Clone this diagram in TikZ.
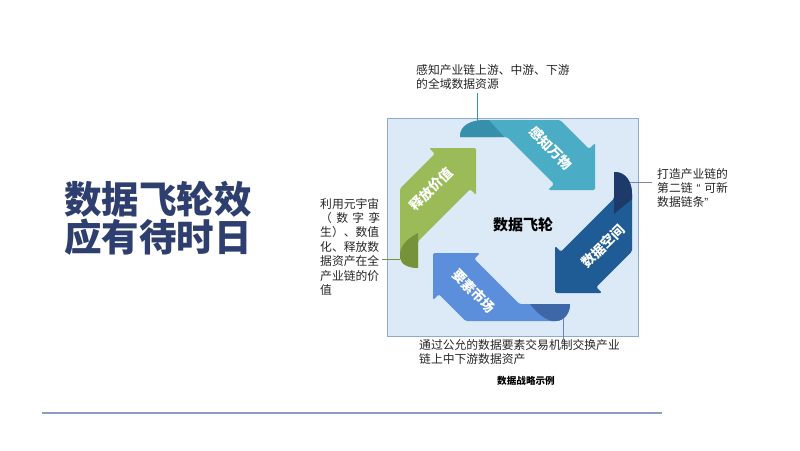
\documentclass[tikz,border=0pt]{standalone}
\usepackage{fontspec}
\setmainfont{Noto Sans CJK SC}
\newfontfamily\latq{Liberation Sans}
\definecolor{teal1}{HTML}{4BACC6}
\definecolor{teal2}{HTML}{3690AB}
\definecolor{navy1}{HTML}{1F5B94}
\definecolor{navy2}{HTML}{1D3A6B}
\definecolor{blu1}{HTML}{5B8FDC}
\definecolor{blu2}{HTML}{3E67A8}
\definecolor{grn1}{HTML}{9BBB59}
\definecolor{grn2}{HTML}{76933C}
\definecolor{boxfill}{HTML}{DCE9F6}
\definecolor{boxline}{HTML}{8EAACC}
\definecolor{titlec}{HTML}{2E3E6F}
\definecolor{rulec}{HTML}{8C9CC2}
\tikzset{
  lbl/.style={inner sep=0pt, align=left, text=black!85, font=\fontsize{11.8}{14}\selectfont},
  arrlbl/.style={inner sep=0pt, text=white, font=\bfseries\fontsize{13.5}{15}\selectfont},
  conn/.style={line width=0.9pt},
}
\begin{document}
\begin{tikzpicture}[x=1pt,y=-1pt]
\useasboundingbox (0,0) rectangle (800,450);
\fill[white] (0,0) rectangle (800,450);

% title
\node[inner sep=0pt, align=center, text=titlec, font=\bfseries\fontsize{37.5}{38}\selectfont] (title) at (158,218) {数据飞轮效\\应有待时日};
% rule
\draw[rulec, line width=1.2pt] (42,413) -- (662,413);

% box
\draw[boxline, fill=boxfill, line width=1pt] (387,118) rectangle (638,336);

% teal arrow (top)
\fill[teal1, rounded corners=1.5pt] (485,120) -- (560,120) -- (589,149) -- (595,143) -- (595,190) -- (548,190) -- (554,184) -- (507,137) -- (460,137) [sharp corners] .. controls (460,126) and (470,120) .. (485,120) -- cycle;
\fill[teal2] (460,137) .. controls (460,126) and (470,120) .. (485,120) -- (489,120) .. controls (494,126) and (499,131) .. (504,137) -- cycle;

% navy arrow (right)
\fill[navy1, rounded corners=1.5pt] (632,194) -- (632,251.4) -- (596.2,287.2) -- (602,293) -- (555,293) -- (555,246) -- (560.8,251.8) -- (614,198.6) -- (614,172) [sharp corners] .. controls (625,172) and (632,181) .. (632,194) -- cycle;
\fill[navy2] (614,172) .. controls (625,172) and (632,181) .. (632,194) -- (632,199) .. controls (626,204) and (620,209) .. (614,214) -- cycle;

% blue arrow (bottom)
\fill[blu1, rounded corners=1.5pt] (556,321) -- (465.6,321) -- (438.8,294.2) -- (433,300) -- (433,253) -- (480,253) -- (474.2,258.8) -- (519.4,304) -- (570,304) [sharp corners] .. controls (570,313) and (564,321) .. (556,321) -- cycle;
\fill[blu2] (570,304) .. controls (570,313) and (564,321) .. (556,321) -- (552,321) .. controls (544,319) and (537,313) .. (530,304) -- cycle;

% green arrow (left)
\fill[grn1, rounded corners=1.5pt] (400,258) -- (400,188.6) -- (434.8,153.8) -- (429,148) -- (476,148) -- (476,195) -- (470.2,189.2) -- (418,241.4) -- (418,268) [sharp corners] .. controls (410,268) and (401,265) .. (400,258) -- cycle;
\fill[grn2] (418,268) -- (418,233) .. controls (408,238) and (401,245) .. (400,253) -- (400,258) .. controls (401,265) and (410,268) .. (418,268) -- cycle;

% arrow labels
\node[arrlbl, rotate=-45] (lt) at (551,148) {感知万物};
\node[arrlbl, rotate=45] (lr) at (603,246) {数据空间};
\node[arrlbl, rotate=-45] (lb) at (474,291) {要素市场};
\node[arrlbl, rotate=45] (ll) at (431,189) {释放价值};

% center
\node[inner sep=0pt, font=\bfseries\fontsize{15}{17}\selectfont] (hub) at (523,225) {数据飞轮};

% anchor points on arrows
\coordinate (pt) at (477,121);
\coordinate (pr) at (630,182);
\coordinate (pb) at (563,318);
\coordinate (pl) at (400,259);

% callout texts
\node[lbl, anchor=north west] (tt) at (416,64) {感知产业链上游、中游、下游\\的全域数据资源};
\node[lbl, anchor=north west] (tr) at (657,168) {打造产业链的\\\makebox[70.8pt][s]{第二链\hfill{\latq “}\hfill 可新}\\数据链条{\latq ”}};
\node[lbl, anchor=north west, font=\fontsize{11.8}{14.4}\selectfont] (tl) at (320,198) {利用元宇宙\\\makebox[60pt][s]{（\hfill 数\hfill 字\hfill 孪}\\生）、数值\\化、释放数\\据资产在全\\产业链的价\\值};
\node[lbl, anchor=north west] (tb) at (419,339) {通过公允的数据要素交易机制交换产业\\链上中下游数据资产};
\node[inner sep=0pt, font=\bfseries\fontsize{9.6}{11}\selectfont] (cap) at (526,381) {数据战略示例};

% connectors
\coordinate (et) at (477,93);
\coordinate (er) at (652,182);
\coordinate (eb) at (563,340);
\coordinate (el) at (382,259);
\draw[conn, teal2] (et) -- (pt);
\draw[conn, color=black!55!blue!50] (pr) -- (er);
\draw[conn, color=blu2!80] (pb) -- (eb);
\draw[conn, grn2] (pl) -- (el);
\end{tikzpicture}
\end{document}
